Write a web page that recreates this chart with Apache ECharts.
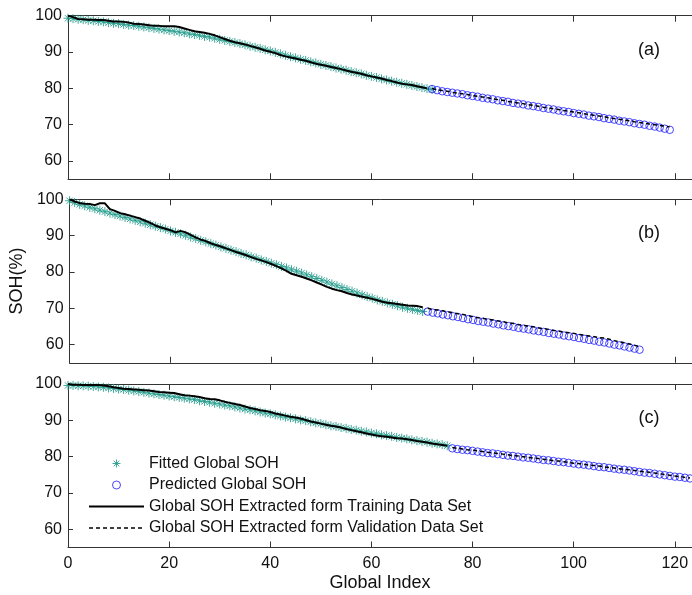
<!DOCTYPE html>
<html>
<head>
<meta charset="utf-8">
<script src="https://cdn.jsdelivr.net/npm/echarts@6/dist/echarts.min.js"></script>
<style>html,body{margin:0;padding:0;background:#fff;}#c{width:692px;height:595px;}</style>
</head>
<body>
<div id="c"></div>
<script>
// ---------- DATA ----------
const xTicks = [0, 20, 40, 60, 80, 100, 120];
const yTicks = [60, 70, 80, 90, 100];
const panelLabels = ['(a)', '(b)', '(c)'];
const seriesNames = ['Fitted Global SOH', 'Predicted Global SOH',
  'Global SOH Extracted form Training Data Set', 'Global SOH Extracted form Validation Data Set'];

// Panel (a)
const aTrainStart = 0;
const aTrain = [100,99.6,99.1,99.0,98.9,98.9,98.8,98.8,98.6,98.4,98.4,98.3,98.1,97.8,97.7,97.6,97.4,97.2,97.2,97.1,
  97.1,97.1,96.9,96.5,96.1,95.7,95.5,95.3,95.0,94.6,94.1,93.6,93.1,92.7,92.4,92.1,91.7,91.3,90.9,90.4,
  90.1,89.7,89.2,88.8,88.5,88.2,87.9,87.6,87.2,86.8,86.5,86.2,85.9,85.6,85.3,84.9,84.6,84.3,84.0,83.6,
  83.3,83.0,82.7,82.3,82.0,81.6,81.3,81.1,80.9,80.6,80.3,80.0];
const aFitStart = 0;
const aFit = [99.3,99.2,99.0,98.9,98.7,98.6,98.4,98.3,98.1,97.9,97.8,97.6,97.4,97.3,97.1,96.9,96.7,96.5,96.3,96.1,
  95.9,95.7,95.5,95.3,95.0,94.8,94.6,94.3,94.1,93.8,93.5,93.2,92.9,92.6,92.3,92.0,91.6,91.3,91.0,90.6,
  90.3,89.9,89.5,89.1,88.7,88.4,88.0,87.7,87.3,87.0,86.6,86.3,86.0,85.6,85.3,85.0,84.6,84.3,84.0,83.6,
  83.3,83.0,82.6,82.3,82.0,81.7,81.4,81.1,80.8,80.5,80.2,79.9,79.7];
const aPredStart = 72;
const aPred = [79.8,79.5,79.2,79.0,78.8,78.6,78.4,78.1,77.9,77.7,77.4,77.2,77.0,76.7,76.5,76.3,76.0,75.8,75.6,75.3,
  75.1,74.9,74.6,74.4,74.2,73.9,73.7,73.5,73.2,73.0,72.8,72.5,72.3,72.1,71.8,71.6,71.4,71.1,70.9,70.7,
  70.4,70.2,70.0,69.7,69.5,69.2,68.9,68.6];
const aValStart = 72;
const aVal = [80.0,79.6,79.4,79.2,78.9,78.7,78.5,78.3,78.0,77.8,77.6,77.4,77.1,76.9,76.7,76.4,76.2,76.0,75.8,75.5,
  75.3,75.1,74.8,74.6,74.4,74.2,73.9,73.7,73.5,73.3,73.0,72.8,72.6,72.4,72.2,71.9,71.7,71.5,71.3,71.1,
  70.8,70.6,70.4,70.2,70.0,69.8,69.6,69.4];

// Panel (b)
const bTrainStart = 0;
const bTrain = [100,99.4,99.0,98.8,98.7,98.4,98.9,98.9,97.3,96.8,96.2,95.9,95.5,95.1,94.7,94.1,93.5,92.8,92.3,91.9,
  91.5,90.9,91.3,90.9,90.2,89.5,88.9,88.5,87.9,87.4,87.0,86.5,86.0,85.5,85.1,84.6,84.1,83.6,83.2,82.7,
  82.2,81.6,81.0,80.3,79.5,79.1,78.7,78.2,77.7,77.1,76.5,75.9,75.4,75.0,74.7,74.2,73.8,73.5,73.2,72.9,
  72.6,72.2,71.8,71.5,71.4,71.2,71.0,70.8,70.7,70.6,70.3];
const bFitStart = 0;
const bFit = [99.6,99.1,98.6,98.2,97.8,97.4,97.0,96.6,96.2,95.8,95.4,95.0,94.6,94.2,93.8,93.4,93.0,92.6,92.2,91.8,
  91.3,90.9,90.5,90.1,89.6,89.2,88.7,88.3,87.8,87.4,86.9,86.5,86.0,85.6,85.1,84.7,84.2,83.8,83.3,82.9,
  82.4,82.0,81.5,81.1,80.6,80.2,79.7,79.2,78.7,78.2,77.7,77.2,76.7,76.2,75.7,75.2,74.7,74.2,73.7,73.2,
  72.8,72.3,71.9,71.5,71.1,70.7,70.3,70.0,69.7,69.4,69.1];
const bPredStart = 71;
const bPred = [69.1,68.8,68.6,68.3,68.1,67.8,67.6,67.3,67.0,66.8,66.5,66.3,66.1,65.8,65.6,65.3,65.1,64.9,64.6,64.4,
  64.2,63.9,63.7,63.5,63.2,63.0,62.8,62.5,62.3,62.1,61.8,61.6,61.3,61.1,60.8,60.6,60.3,60.0,59.8,59.5,
  59.2,58.9,58.6];
const bValStart = 71;
const bVal = [70.0,69.7,69.5,69.3,69.0,68.8,68.5,68.3,68.0,67.7,67.4,67.2,67.0,66.8,66.5,66.3,66.0,65.8,65.5,65.3,
  65.1,64.9,64.6,64.4,64.2,63.9,63.7,63.5,63.3,63.1,62.8,62.6,62.4,62.2,61.9,61.8,61.5,61.1,60.8,60.5,
  60.2,59.8,59.5];

// Panel (c)
const cTrainStart = 0;
const cTrain = [100,99.8,99.8,99.7,99.7,99.7,99.7,99.6,99.4,99.1,98.9,98.7,98.6,98.5,98.4,98.3,98.2,98.0,97.8,97.7,
  97.6,97.5,97.2,96.9,96.8,96.6,96.4,96.1,95.9,95.8,95.5,95.1,94.8,94.5,94.2,93.8,93.4,93.1,92.8,92.6,
  92.3,91.9,91.6,91.3,91.0,90.8,90.5,90.1,89.7,89.4,89.1,88.8,88.5,88.3,88.0,87.6,87.3,87.0,86.7,86.4,
  86.1,85.8,85.6,85.5,85.3,85.1,85.0,84.8,84.6,84.3,84.1,83.9,83.6,83.4,83.2,83.0];
const cFitStart = 0;
const cFit = [99.6,99.6,99.5,99.5,99.4,99.3,99.2,99.1,98.9,98.8,98.6,98.5,98.3,98.1,97.9,97.7,97.5,97.3,97.1,96.9,
  96.7,96.5,96.3,96.1,95.9,95.7,95.4,95.2,95.0,94.7,94.5,94.2,94.0,93.7,93.4,93.1,92.9,92.6,92.3,92.0,
  91.8,91.5,91.2,90.9,90.7,90.4,90.1,89.9,89.6,89.3,89.1,88.8,88.5,88.3,88.0,87.8,87.5,87.3,87.0,86.8,
  86.5,86.3,86.0,85.8,85.6,85.3,85.1,84.9,84.6,84.4,84.2,84.0,83.7,83.5,83.3,83.0];
const cPredStart = 76;
const cPred = [82.3,82.1,81.9,81.8,81.6,81.4,81.2,81.0,80.9,80.7,80.5,80.3,80.2,80.0,79.8,79.7,79.5,79.3,79.1,79.0,
  78.8,78.6,78.5,78.3,78.1,77.9,77.8,77.6,77.4,77.2,77.1,76.9,76.7,76.5,76.4,76.2,76.0,75.8,75.6,75.5,
  75.3,75.1,74.9,74.7,74.5,74.4,74.2,74.0];
const cValStart = 76;
const cVal = [82.5,82.3,82.1,81.9,81.8,81.6,81.4,81.2,81.0,80.9,80.7,80.5,80.3,80.2,80.0,79.8,79.6,79.5,79.3,79.1,
  78.9,78.8,78.6,78.4,78.2,78.1,77.9,77.7,77.6,77.4,77.2,77.0,76.9,76.7,76.5,76.4,76.2,76.0,75.8,75.7,
  75.5,75.3,75.1,74.9,74.7,74.5,74.3,74.1];

// ---------- CHART ----------
const FONT = '"Liberation Sans", Arial, Helvetica, sans-serif';
const TEAL = '#1f9a8a';
const BLUE = '#1a1aff';
const AX = '#333333';
const STAR = 'path://M5,0L5,10M0,5L10,5M1.5,1.5L8.5,8.5M8.5,1.5L1.5,8.5';

function pts(start, arr) { return arr.map((v, i) => [start + i, v]); }

const panels = [
  {fit: pts(aFitStart, aFit), pred: pts(aPredStart, aPred), train: pts(aTrainStart, aTrain), val: pts(aValStart, aVal)},
  {fit: pts(bFitStart, bFit), pred: pts(bPredStart, bPred), train: pts(bTrainStart, bTrain), val: pts(bValStart, bVal)},
  {fit: pts(cFitStart, cFit), pred: pts(cPredStart, cPred), train: pts(cTrainStart, cTrain), val: pts(cValStart, cVal)}
];

const gridTops = [15.7, 199.3, 384];
const gridH = 163.5;
const X0 = 68, XMAX = 123.4, PXU = 5.067;
const grids = gridTops.map(t => ({left: X0, top: t, width: XMAX * PXU, height: gridH, containLabel: false}));

const xAxes = [], yAxes = [], series = [];
gridTops.forEach((t, gi) => {
  const last = gi === 2;
  xAxes.push({
    type: 'value', gridIndex: gi, position: 'bottom', min: 0, max: XMAX, interval: 20,
    axisLine: {show: true, onZero: false, lineStyle: {color: AX, width: 1}},
    axisTick: {show: true, inside: true, length: 6, lineStyle: {color: AX}},
    axisLabel: {show: last, showMaxLabel: false, margin: 8, fontSize: 16, fontFamily: FONT, color: '#111'},
    splitLine: {show: false},
    name: last ? 'Global Index' : '', nameLocation: 'middle', nameGap: 27,
    nameTextStyle: {fontSize: 18, fontFamily: FONT, color: '#111'}
  });
  xAxes.push({
    type: 'value', gridIndex: gi, position: 'top', min: 0, max: XMAX, interval: 20,
    axisLine: {show: true, onZero: false, lineStyle: {color: AX, width: 1}},
    axisTick: {show: true, inside: true, length: 6, lineStyle: {color: AX}},
    axisLabel: {show: false}, splitLine: {show: false}
  });
  yAxes.push({
    type: 'value', gridIndex: gi, min: 55, max: 100,
    axisLine: {show: true, onZero: false, lineStyle: {color: AX, width: 1}},
    axisTick: {show: true, inside: true, length: 5, customValues: yTicks, lineStyle: {color: AX}},
    axisLabel: {show: true, customValues: yTicks, margin: 6, fontSize: 16, fontFamily: FONT, color: '#111'},
    splitLine: {show: false},
    name: gi === 1 ? 'SOH(%)' : '', nameLocation: 'middle', nameGap: 35,
    nameTextStyle: {fontSize: 18, fontFamily: FONT, color: '#111'}
  });
  const p = panels[gi];
  series.push({
    name: seriesNames[0], type: 'scatter', xAxisIndex: gi * 2, yAxisIndex: gi, data: p.fit,
    symbol: STAR, symbolSize: 9, symbolKeepAspect: true, z: 2,
    itemStyle: {color: TEAL, borderColor: TEAL, borderWidth: 1, opacity: 0.85}
  });
  series.push({
    name: seriesNames[1], type: 'scatter', xAxisIndex: gi * 2, yAxisIndex: gi, data: p.pred,
    symbol: 'circle', symbolSize: 7.5, symbolKeepAspect: true, z: 2,
    itemStyle: {color: 'rgba(0,0,0,0)', borderColor: BLUE, borderWidth: 1}
  });
  series.push({
    name: seriesNames[2], type: 'line', xAxisIndex: gi * 2, yAxisIndex: gi, data: p.train,
    showSymbol: false, symbol: 'none', z: 4, lineStyle: {color: '#000', width: 2}, itemStyle: {color: '#000'}
  });
  series.push({
    name: seriesNames[3], type: 'line', xAxisIndex: gi * 2, yAxisIndex: gi, data: p.val,
    showSymbol: false, symbol: 'none', z: 4, lineStyle: {color: '#000', width: 1.5, type: [4, 3]}, itemStyle: {color: '#000'}
  });
});

const labelY = [50, 233.3, 418.3];
const graphic = panelLabels.map((txt, i) => ({
  type: 'text', x: 649, y: labelY[i], z: 10,
  style: {text: txt, fontSize: 18, fontFamily: FONT, fill: '#111', align: 'center', verticalAlign: 'middle'}
}));

const option = {
  animation: false,
  backgroundColor: '#fff',
  grid: grids,
  xAxis: xAxes,
  yAxis: yAxes,
  series: series,
  graphic: graphic,
  legend: {
    orient: 'vertical', left: 88, top: 455.5, itemWidth: 55, itemHeight: 8, itemGap: 5.5,
    selectedMode: false, padding: 0,
    textStyle: {fontSize: 16, fontFamily: FONT, color: '#111'},
    data: [
      {name: seriesNames[0], itemStyle: {borderWidth: 1}},
      {name: seriesNames[1], itemStyle: {borderWidth: 1}},
      {name: seriesNames[2], itemStyle: {opacity: 0}, lineStyle: {width: 2}},
      {name: seriesNames[3], itemStyle: {opacity: 0}, lineStyle: {width: 1.5}}
    ]
  }
};

const chart = echarts.init(document.getElementById('c'), null, {renderer: 'canvas'});
chart.setOption(option);
</script>
</body>
</html>
